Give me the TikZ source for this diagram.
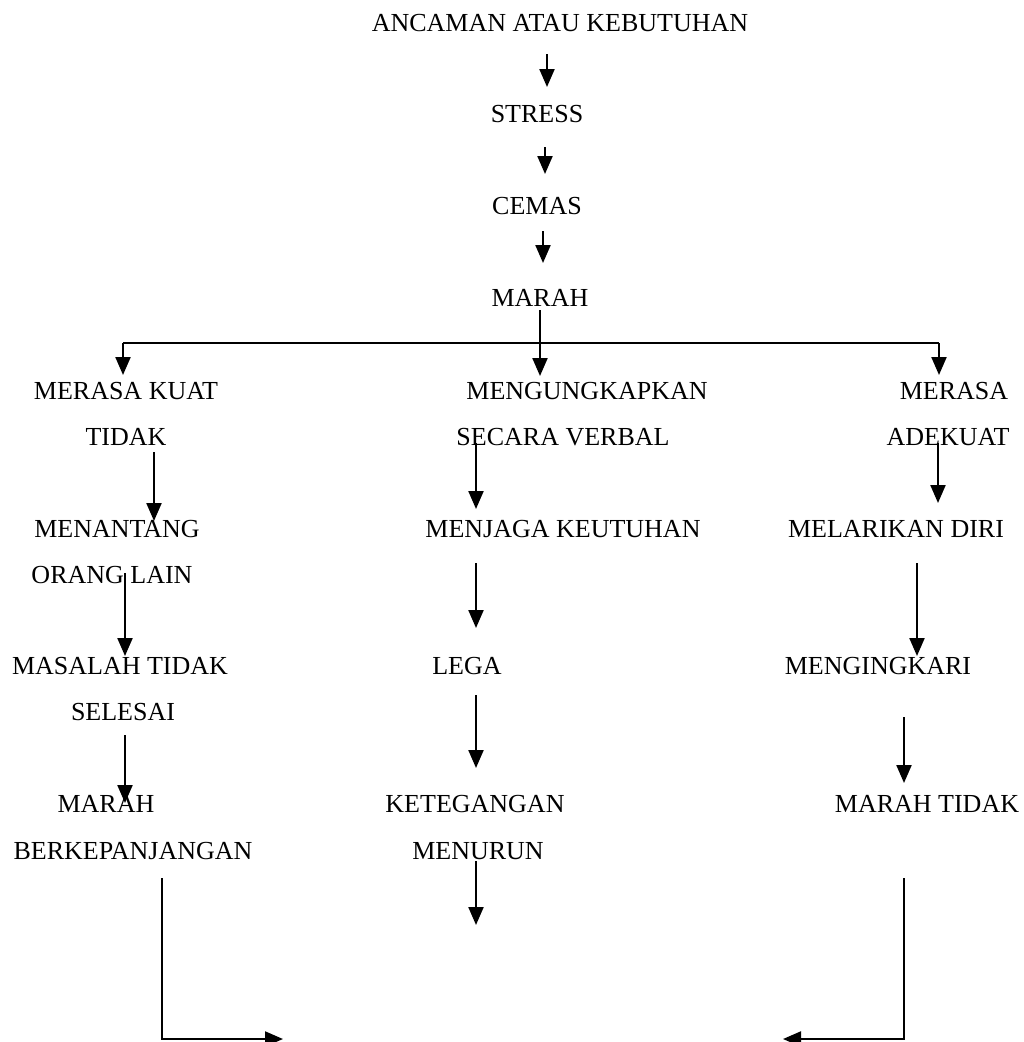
\documentclass[tikz,border=0pt]{standalone}
\usepackage{fontspec}
\setmainfont{Liberation Serif}
\usetikzlibrary{arrows.meta}
\begin{document}
\begin{tikzpicture}[x=1pt,y=-1pt,
  lbl/.style={inner sep=0pt,font=\fontsize{26}{30}\selectfont},
  arr/.style={line width=2.2pt,-{Triangle[width=15pt,length=18pt]}},
  bar/.style={line width=1.8pt}]
\useasboundingbox (0,0) rectangle (1024,1042);
% top chain
\node[lbl] (anc) at (560,23) {ANCAMAN ATAU KEBUTUHAN};
\node[lbl] (str) at (537,114) {STRESS};
\node[lbl] (cem) at (537,206) {CEMAS};
\node[lbl] (mar) at (540,298) {MARAH};
% left column
\node[lbl] (mk1) at (126,391) {MERASA KUAT};
\node[lbl] (mk2) at (126,437) {TIDAK};
\node[lbl] (mo1) at (117,529) {MENANTANG};
\node[lbl] (mo2) at (112,575) {ORANG LAIN};
\node[lbl] (ms1) at (120,666) {MASALAH TIDAK};
\node[lbl] (ms2) at (123,712) {SELESAI};
\node[lbl] (mb1) at (106,804) {MARAH};
\node[lbl] (mb2) at (133,851) {BERKEPANJANGAN};
% center column
\node[lbl] (mv1) at (587,391) {MENGUNGKAPKAN};
\node[lbl] (mv2) at (563,437) {SECARA VERBAL};
\node[lbl] (mj) at (563,529) {MENJAGA KEUTUHAN};
\node[lbl] (lg) at (467,666) {LEGA};
\node[lbl] (kt1) at (475,804) {KETEGANGAN};
\node[lbl] (kt2) at (478,851) {MENURUN};
% right column
\node[lbl] (ma1) at (954,391) {MERASA};
\node[lbl] (ma2) at (948,437) {ADEKUAT};
\node[lbl] (ml) at (896,529) {MELARIKAN DIRI};
\node[lbl] (mi) at (878,666) {MENGINGKARI};
\node[lbl] (mt) at (927,804) {MARAH TIDAK};
% coordinates
\coordinate (a1s) at (547,54);  \coordinate (a1e) at (547,87);
\coordinate (a2s) at (545,147); \coordinate (a2e) at (545,174);
\coordinate (a3s) at (543,231); \coordinate (a3e) at (543,263);
\coordinate (a4s) at (540,310); \coordinate (a4e) at (540,376);
\coordinate (hl) at (123,343);  \coordinate (hr) at (939,343);
\coordinate (hle) at (123,375); \coordinate (hre) at (939,375);
\coordinate (l1s) at (154,452); \coordinate (l1e) at (154,521);
\coordinate (l2s) at (125,573); \coordinate (l2e) at (125,656);
\coordinate (l3s) at (125,735); \coordinate (l3e) at (125,803);
\coordinate (c1s) at (476,443); \coordinate (c1e) at (476,509);
\coordinate (c2s) at (476,563); \coordinate (c2e) at (476,628);
\coordinate (c3s) at (476,695); \coordinate (c3e) at (476,768);
\coordinate (c4s) at (476,861); \coordinate (c4e) at (476,925);
\coordinate (r1s) at (938,443); \coordinate (r1e) at (938,503);
\coordinate (r2s) at (917,563); \coordinate (r2e) at (917,656);
\coordinate (r3s) at (904,717); \coordinate (r3e) at (904,783);
\coordinate (bls) at (162,878); \coordinate (blc) at (162,1039); \coordinate (ble) at (283,1039);
\coordinate (brs) at (904,878); \coordinate (brc) at (904,1039); \coordinate (bre) at (783,1039);
% connectors
\draw[arr] (a1s) -- (a1e);
\draw[arr] (a2s) -- (a2e);
\draw[arr] (a3s) -- (a3e);
\draw[bar] (hl) -- (hr);
\draw[arr] (a4s) -- (a4e);
\draw[arr] (hl) -- (hle);
\draw[arr] (hr) -- (hre);
\draw[arr] (l1s) -- (l1e);
\draw[arr] (l2s) -- (l2e);
\draw[arr] (l3s) -- (l3e);
\draw[arr] (c1s) -- (c1e);
\draw[arr] (c2s) -- (c2e);
\draw[arr] (c3s) -- (c3e);
\draw[arr] (c4s) -- (c4e);
\draw[arr] (r1s) -- (r1e);
\draw[arr] (r2s) -- (r2e);
\draw[arr] (r3s) -- (r3e);
\draw[arr] (bls) -- (blc) -- (ble);
\draw[arr] (brs) -- (brc) -- (bre);
\end{tikzpicture}
\end{document}
